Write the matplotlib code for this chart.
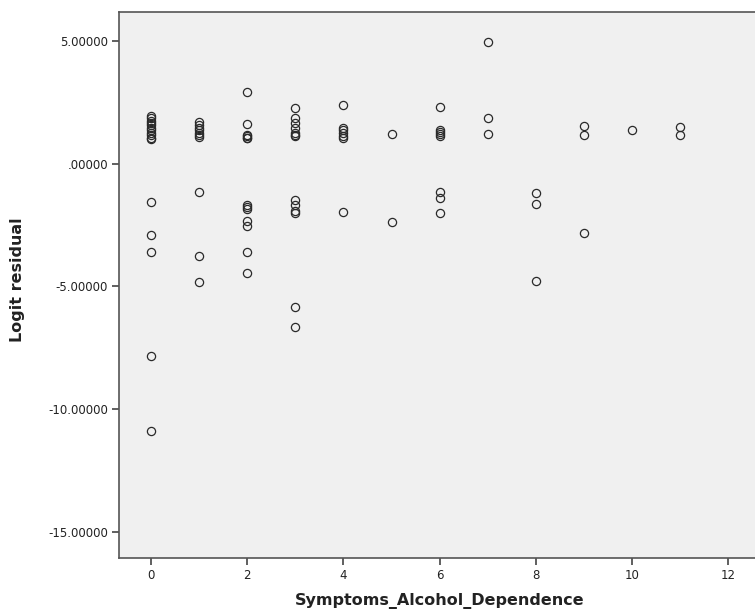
import matplotlib
matplotlib.use("Agg")
import matplotlib.pyplot as plt

# Data: (Symptoms_Alcohol_Dependence, Logit residual)
x0 = [0] * 16
y0 = [1.95, 1.85, 1.75, 1.65, 1.55, 1.45, 1.35, 1.25, 1.15, 1.05, 1.01,
      -1.57, -2.90, -3.60, -7.82, -10.88]
x1 = [1] * 10
y1 = [1.67, 1.55, 1.45, 1.35, 1.25, 1.15, 1.08, -1.15, -3.78, -4.82]
x2 = [2] * 13
y2 = [2.90, 1.61, 1.16, 1.10, 1.05, 1.02,
      -1.69, -1.78, -1.87, -2.36, -2.54, -3.60, -4.44]
x3 = [3] * 13
y3 = [2.26, 1.84, 1.65, 1.45, 1.25, 1.15, 1.12,
      -1.48, -1.70, -1.95, -2.02, -5.83, -6.64]
x4 = [4] * 7
y4 = [2.39, 1.46, 1.35, 1.25, 1.12, 1.05, -1.98]
x5 = [5] * 2
y5 = [1.19, -2.39]
x6 = [6] * 8
y6 = [2.32, 1.36, 1.28, 1.20, 1.12, -1.17, -1.39, -2.00]
x7 = [7] * 3
y7 = [4.95, 1.86, 1.21]
x8 = [8] * 3
y8 = [-1.21, -1.64, -4.78]
x9 = [9] * 3
y9 = [1.53, 1.14, -2.83]
x10 = [10]
y10 = [1.37]
x11 = [11] * 2
y11 = [1.49, 1.17]

xs = x0 + x1 + x2 + x3 + x4 + x5 + x6 + x7 + x8 + x9 + x10 + x11
ys = y0 + y1 + y2 + y3 + y4 + y5 + y6 + y7 + y8 + y9 + y10 + y11

xticks = [0, 2, 4, 6, 8, 10, 12]
yticks = [5, 0, -5, -10, -15]
ytick_labels = ["5.00000", ".00000", "-5.00000", "-10.00000", "-15.00000"]

W, H = 755, 615
fig = plt.figure(figsize=(W / 100, H / 100), dpi=100)
left, right, top, bottom = 119, 760, 12, 558
ax = fig.add_axes([left / W, 1 - bottom / H, (right - left) / W, (bottom - top) / H])
ax.set_facecolor("#f0f0f0")

ax.plot(xs, ys, linestyle="none", marker="o", markersize=5.9,
        markerfacecolor="none", markeredgecolor="#2a2a2a", markeredgewidth=0.9)

px_per_unit_x = 48.1
ax.set_xlim((left - 151) / px_per_unit_x, (right - 151) / px_per_unit_x)
px_per_unit_y = 24.6
ax.set_ylim(-15 - (bottom - 532) / px_per_unit_y, 5 + (40.7 - top) / px_per_unit_y)

ax.set_xticks(xticks)
ax.set_xticklabels([str(v) for v in xticks])
ax.set_yticks(yticks)
ax.set_yticklabels(ytick_labels)

for side in ["left", "bottom", "top"]:
    ax.spines[side].set_color("#555555")
    ax.spines[side].set_linewidth(1.2)
ax.spines["right"].set_visible(False)

ax.tick_params(axis="both", direction="out", length=5, width=1.2,
               color="#444444", labelsize=8.5, labelcolor="#222222", pad=3)

ax.set_xlabel("Symptoms_Alcohol_Dependence", fontsize=11.5, fontweight="bold",
              color="#222222", labelpad=8)
fig.text(18 / W, 1 - 280 / H, "Logit residual", rotation=90, ha="center", va="center",
         fontsize=11.5, fontweight="bold", color="#222222")

fig.savefig("out.png", dpi=100)
